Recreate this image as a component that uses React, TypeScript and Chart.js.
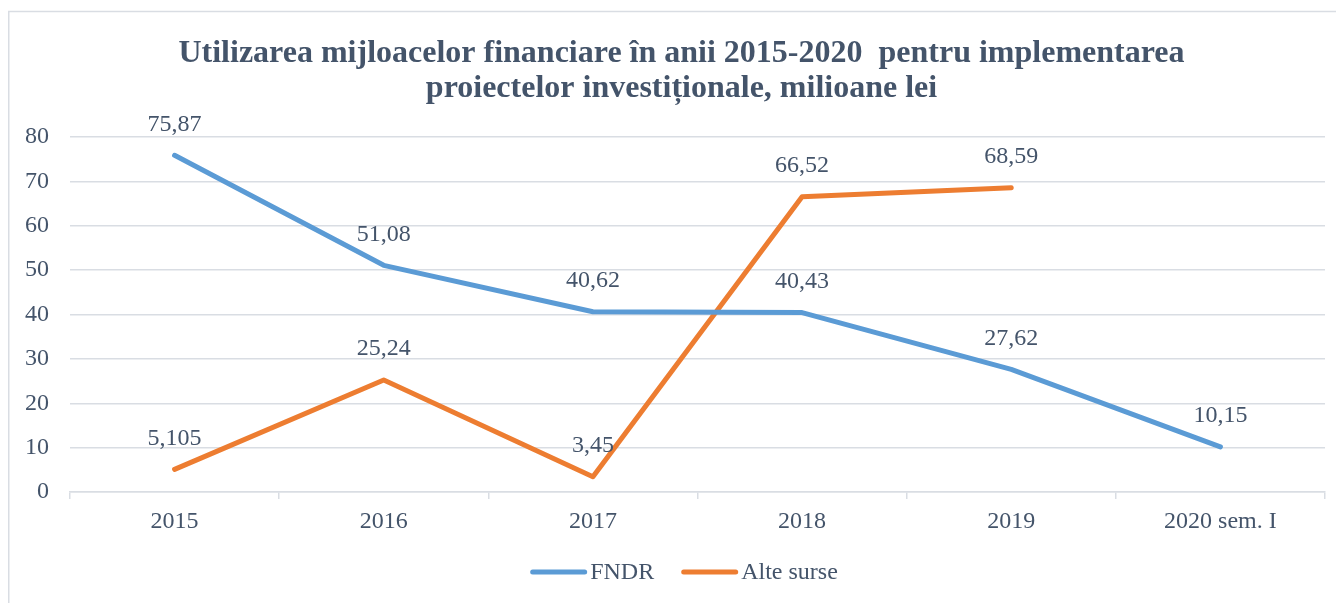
import React, { useEffect, useRef } from "react";
import { Chart, registerables } from "chart.js";

Chart.register(...registerables);

const categories = ["2015", "2016", "2017", "2018", "2019", "2020 sem. I"];
const fndrValues = [75.87, 51.08, 40.62, 40.43, 27.62, 10.15];
const alteSurseValues: (number | null)[] = [5.105, 25.24, 3.45, 66.52, 68.59, null];
const yTicks = [0, 10, 20, 30, 40, 50, 60, 70, 80];
const titleLines = [
  "Utilizarea mijloacelor financiare în anii 2015-2020  pentru implementarea",
  "proiectelor investiționale, milioane lei",
];

const FONT = "'Liberation Serif', 'Times New Roman', serif";
const TEXT = "#44546A";
const GRID = "#D9DDE3";
const BLUE = "#5B9BD5";
const ORANGE = "#ED7D31";
const FS = 24;

const W = 1336;
const H = 595;

const decorPlugin = {
  id: "decor",
  beforeDraw(chart: any) {
    const ctx = chart.ctx;
    ctx.save();
    ctx.fillStyle = "#ffffff";
    ctx.fillRect(0, 0, chart.width, chart.height);
    ctx.strokeStyle = GRID;
    ctx.lineWidth = 1.5;
    ctx.beginPath();
    ctx.moveTo(0.75, chart.height);
    ctx.lineTo(0.75, 3.5);
    ctx.lineTo(chart.width, 3.5);
    ctx.stroke();
    ctx.restore();
  },
  afterDraw(chart: any) {
    const ctx = chart.ctx;
    ctx.save();
    // title
    ctx.fillStyle = TEXT;
    ctx.font = `bold 32px ${FONT}`;
    ctx.textAlign = "center";
    ctx.textBaseline = "alphabetic";
    ctx.fillText(titleLines[0], 673.5, 54);
    ctx.fillText(titleLines[1], 673.5, 89);
    // legend
    const ly = 564;
    ctx.font = `${FS}px ${FONT}`;
    ctx.textBaseline = "middle";
    ctx.textAlign = "left";
    const lineLen = 57;
    const gap = 3;
    const itemGap = 27;
    const items = chart.data.datasets.map((d: any) => ({
      label: d.label,
      color: d.borderColor,
      w: lineLen + gap + ctx.measureText(d.label).width,
    }));
    const total = items.reduce((s: number, it: any) => s + it.w, 0) + itemGap * (items.length - 1);
    let x = 676 - total / 2;
    for (const it of items) {
      ctx.strokeStyle = it.color;
      ctx.lineWidth = 5;
      ctx.lineCap = "round";
      ctx.beginPath();
      ctx.moveTo(x + 2.5, ly);
      ctx.lineTo(x + lineLen - 2.5, ly);
      ctx.stroke();
      ctx.fillStyle = TEXT;
      ctx.fillText(it.label, x + lineLen + gap, ly + 1);
      x += it.w + itemGap;
    }
    ctx.restore();
  },
  afterDatasetsDraw(chart: any) {
    const ctx = chart.ctx;
    ctx.save();
    ctx.font = `${FS}px ${FONT}`;
    ctx.fillStyle = TEXT;
    ctx.textAlign = "center";
    ctx.textBaseline = "middle";
    chart.data.datasets.forEach((ds: any, i: number) => {
      const meta = chart.getDatasetMeta(i);
      meta.data.forEach((pt: any, j: number) => {
        const v = ds.data[j];
        if (v === null || v === undefined) return;
        const txt = String(v).replace(".", ",");
        ctx.fillText(txt, pt.x, pt.y - 31);
      });
    });
    ctx.restore();
  },
};

export default function App() {
  const ref = useRef<HTMLCanvasElement | null>(null);
  useEffect(() => {
    document.documentElement.style.overflow = "hidden";
    document.body.style.overflow = "hidden";
    if (!ref.current) return;
    const chart = new Chart(ref.current, {
      type: "line",
      data: {
        labels: categories,
        datasets: [
          {
            label: "FNDR",
            data: fndrValues,
            borderColor: BLUE,
            backgroundColor: BLUE,
            borderWidth: 5,
            pointRadius: 0,
            pointHoverRadius: 0,
            tension: 0,
            borderCapStyle: "round",
            borderJoinStyle: "round",
          },
          {
            label: "Alte surse",
            data: alteSurseValues,
            borderColor: ORANGE,
            backgroundColor: ORANGE,
            borderWidth: 5,
            pointRadius: 0,
            pointHoverRadius: 0,
            tension: 0,
            borderCapStyle: "round",
            borderJoinStyle: "round",
          },
        ],
      },
      options: {
        responsive: false,
        animation: false,
        devicePixelRatio: 1,
        layout: { padding: { top: 129, right: 19, bottom: 67, left: 0 } },
        plugins: {
          legend: { display: false },
          title: { display: false },
          tooltip: { enabled: false },
        },
        scales: {
          x: {
            type: "category",
            offset: true,
            grid: {
              display: true,
              drawOnChartArea: false,
              drawTicks: true,
              tickLength: 7,
              offset: true,
              color: GRID,
              lineWidth: 1.5,
            },
            border: { display: true, color: GRID, width: 1.5 },
            ticks: {
              color: TEXT,
              font: { family: FONT, size: FS },
              padding: 8,
              maxRotation: 0,
              autoSkip: false,
            },
            afterFit(scale: any) {
              scale.height = 44;
            },
          },
          y: {
            min: 0,
            max: 80,
            afterBuildTicks(scale: any) {
              scale.ticks = yTicks.map((v) => ({ value: v }));
            },
            grid: {
              color: GRID,
              lineWidth: 1.5,
              drawTicks: false,
            },
            border: { display: false },
            ticks: {
              color: TEXT,
              font: { family: FONT, size: FS },
              padding: 21,
            },
            afterFit(scale: any) {
              scale.width = 62;
            },
          },
        },
      },
      plugins: [decorPlugin],
    });
    return () => chart.destroy();
  }, []);
  return (
    <div style={{ width: W, height: H }}>
      <canvas ref={ref} width={W} height={H} style={{ display: "block", width: W, height: H }} />
    </div>
  );
}
